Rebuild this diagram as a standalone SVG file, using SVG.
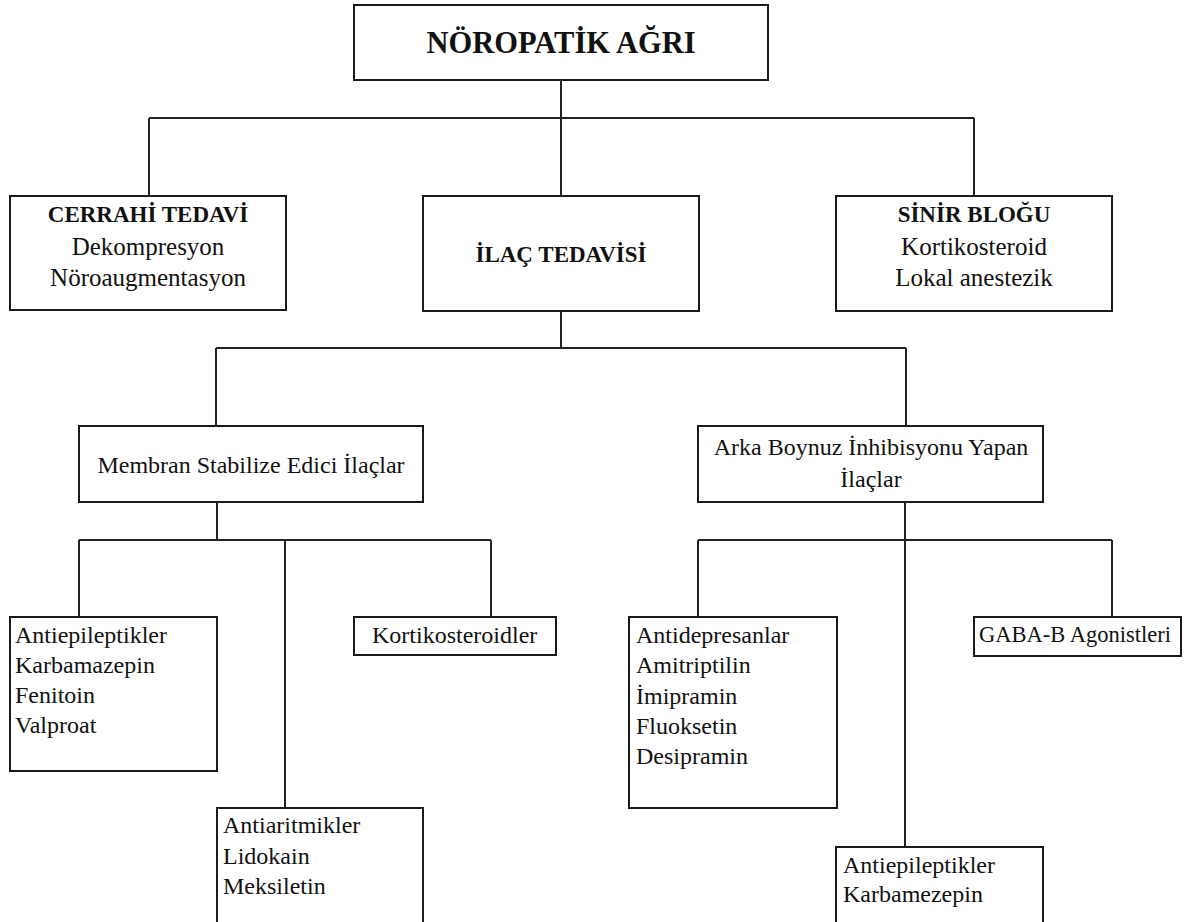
<svg xmlns="http://www.w3.org/2000/svg" width="1194" height="922" viewBox="0 0 1194 922">
  <style>
    .box { fill: #ffffff; stroke: #1a1a1a; stroke-width: 2; }
    .wire { fill: none; stroke: #222222; stroke-width: 2; }
    text { font-family: 'Liberation Serif', 'DejaVu Serif', serif; fill: #111111; }
    .title { font-size: 30.5px; font-weight: bold; text-anchor: middle; }
    .head { font-size: 23px; font-weight: bold; text-anchor: middle; }
    .sub { font-size: 25px; text-anchor: middle; }
    .mid { font-size: 24px; text-anchor: middle; }
    .item { font-size: 24px; }
    .tight { font-size: 22.5px; }
  </style>
  <rect width="1194" height="922" fill="#ffffff"/>

  <!-- tree connectors -->
  <g id="connectors" class="wire">
    <path d="M561 80 V118 M149 118 H974 M149 118 V196 M561 118 V196 M974 118 V196"/>
    <path d="M561 311 V348 M216 348 H906 M216 348 V426 M906 348 V426"/>
    <path d="M217 502 V540 M79 540 H491 M79 540 V617 M285 540 V808 M491 540 V617"/>
    <path d="M905 502 V847 M698 540 H1112 M698 540 V617 M1112 540 V617"/>
  </g>

  <g id="noropatik-agri">
    <rect class="box" x="354" y="5" width="414" height="75"/>
    <text class="title" x="561" y="53">NÖROPATİK AĞRI</text>
  </g>

  <g id="cerrahi-tedavi">
    <rect class="box" x="10" y="196" width="276" height="114"/>
    <text class="head" x="148" y="222">CERRAHİ TEDAVİ</text>
    <text class="sub" x="148" y="255">Dekompresyon</text>
    <text class="sub" x="148" y="286">Nöroaugmentasyon</text>
  </g>

  <g id="ilac-tedavisi">
    <rect class="box" x="423" y="196" width="276" height="115"/>
    <text class="head" x="561" y="262">İLAÇ TEDAVİSİ</text>
  </g>

  <g id="sinir-blogu">
    <rect class="box" x="836" y="196" width="276" height="115"/>
    <text class="head" x="974" y="222">SİNİR BLOĞU</text>
    <text class="sub" x="974" y="255">Kortikosteroid</text>
    <text class="sub" x="974" y="286">Lokal anestezik</text>
  </g>

  <g id="membran-stabilize">
    <rect class="box" x="79" y="426" width="344" height="76"/>
    <text class="mid" x="251" y="473">Membran Stabilize Edici İlaçlar</text>
  </g>

  <g id="arka-boynuz">
    <rect class="box" x="698" y="426" width="345" height="76"/>
    <text class="mid" x="871" y="455">Arka Boynuz İnhibisyonu Yapan</text>
    <text class="mid" x="871" y="487">İlaçlar</text>
  </g>

  <g id="antiepileptikler-1">
    <rect class="box" x="10" y="617" width="207" height="154"/>
    <text class="item" x="15" y="643">Antiepileptikler</text>
    <text class="item" x="15" y="673">Karbamazepin</text>
    <text class="item" x="15" y="703">Fenitoin</text>
    <text class="item" x="15" y="733">Valproat</text>
  </g>

  <g id="kortikosteroidler">
    <rect class="box" x="354" y="617" width="202" height="38"/>
    <text class="item" x="372" y="643">Kortikosteroidler</text>
  </g>

  <g id="antiaritmikler">
    <rect class="box" x="217" y="808" width="206" height="130"/>
    <text class="item" x="223" y="833">Antiaritmikler</text>
    <text class="item" x="223" y="864">Lidokain</text>
    <text class="item" x="223" y="894">Meksiletin</text>
  </g>

  <g id="antidepresanlar">
    <rect class="box" x="629" y="617" width="208" height="191"/>
    <text class="item" x="636" y="643">Antidepresanlar</text>
    <text class="item" x="636" y="673">Amitriptilin</text>
    <text class="item" x="636" y="704">İmipramin</text>
    <text class="item" x="636" y="734">Fluoksetin</text>
    <text class="item" x="636" y="764">Desipramin</text>
  </g>

  <g id="gaba-b">
    <rect class="box" x="974" y="617" width="207" height="39"/>
    <text class="tight" x="979" y="642">GABA-B Agonistleri</text>
  </g>

  <g id="antiepileptikler-2">
    <rect class="box" x="836" y="847" width="207" height="90"/>
    <text class="item" x="843" y="873">Antiepileptikler</text>
    <text class="item" x="843" y="902">Karbamezepin</text>
  </g>
</svg>
